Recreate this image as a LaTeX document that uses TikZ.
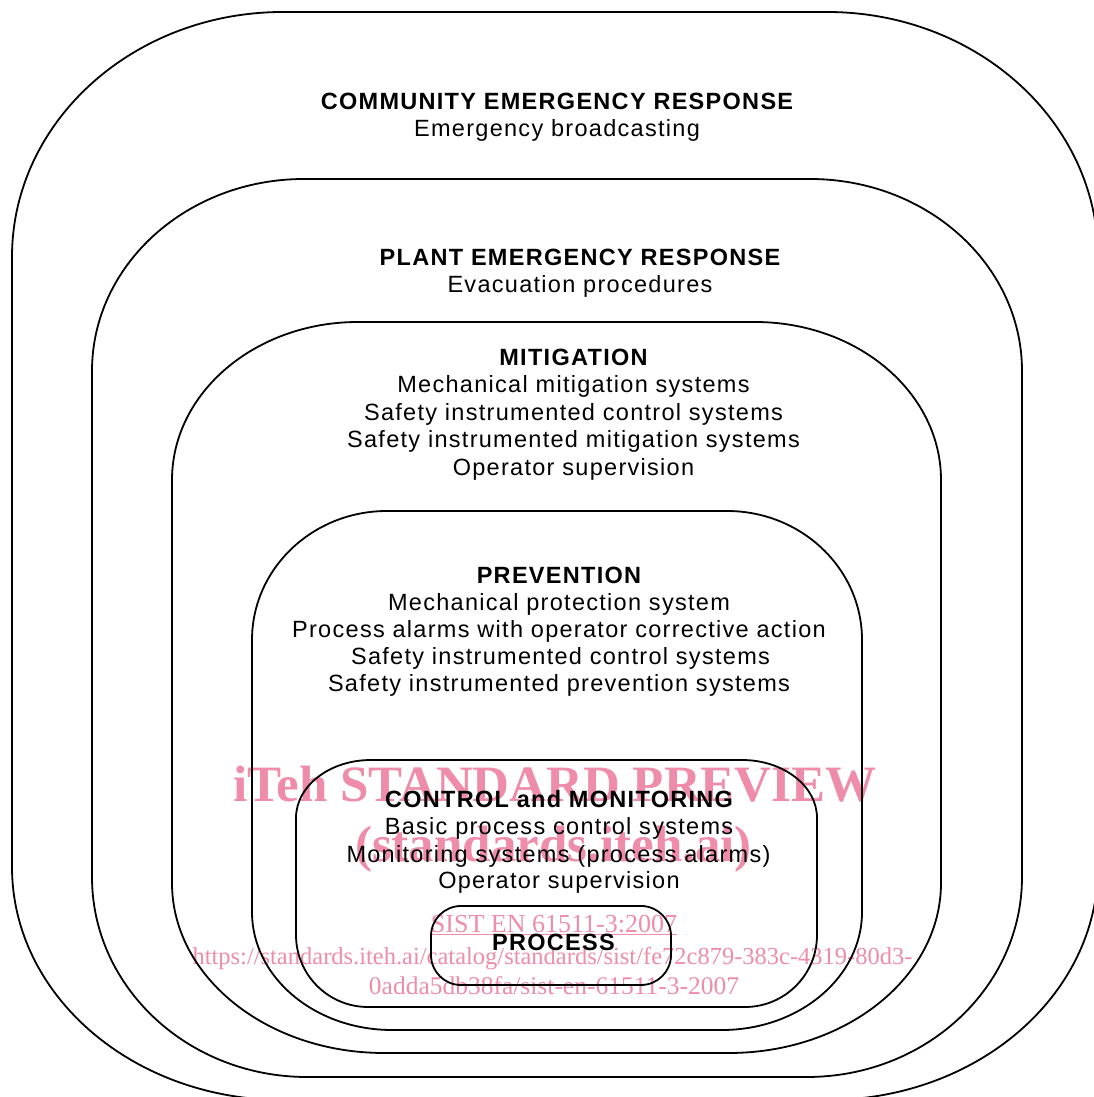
\documentclass[tikz,border=0pt]{standalone}
\usepackage{fontspec}
\setmainfont{Liberation Sans}[LetterSpace=5.5]
\newfontfamily\wmfont{Liberation Serif}
\definecolor{wmpink}{RGB}{238,140,170}
% #1 x left, #2 y top, #3 x right, #4 y bottom (image coords), #5,#6 top radii, #7,#8 bottom radii
\newcommand\RRbox[8]{%
  \draw[boxline] ({#1+#5},{1097-#2}) -- ({#3-#5},{1097-#2})
    arc[start angle=90,end angle=0,x radius=#5pt,y radius=#6pt]
    -- ({#3},{1097-#4+#8})
    arc[start angle=0,end angle=-90,x radius=#7pt,y radius=#8pt]
    -- ({#1+#7},{1097-#4})
    arc[start angle=270,end angle=180,x radius=#7pt,y radius=#8pt]
    -- ({#1},{1097-#2-#6})
    arc[start angle=180,end angle=90,x radius=#5pt,y radius=#6pt]
    -- cycle;}
\begin{document}
\begin{tikzpicture}[x=1pt,y=1pt,
  boxline/.style={draw=black,line width=1.8pt},
  txt/.style={anchor=base,inner sep=0pt,font=\fontsize{23.5}{27.5}\selectfont},
  hd/.style={txt,font=\fontsize{23.5}{27.5}\selectfont\bfseries},
  wmbig/.style={anchor=base,inner sep=0pt,text=wmpink,font=\wmfont\fontsize{51}{55}\selectfont\bfseries},
  wmsmall/.style={anchor=base,inner sep=0pt,text=wmpink,font=\wmfont\fontsize{26}{30}\selectfont}]
\useasboundingbox (0,0) rectangle (1094,1097);
\clip (0,0) rectangle (1094,1097);
% watermark
\node[wmbig] (w1) at (555,295) {iTeh STANDARD PREVIEW};
\node[wmbig] (w2) at (553.5,235) {(standards.iteh.ai)};
\node[wmsmall] (w3) at (554,164.5) {\underline{SIST EN 61511-3:2007}};
\node[wmsmall,font=\wmfont\fontsize{24.5}{28}\selectfont] (w4) at (552.5,132) {https://standards.iteh.ai/catalog/standards/sist/fe72c879-383c-4319-80d3-};
\node[wmsmall,font=\wmfont\fontsize{25.5}{29}\selectfont] (w5) at (554,102) {0adda5db38fa/sist-en-61511-3-2007};
% nested boxes
\RRbox{12}{12}{1098}{1100}{271}{245}{271}{233}
\RRbox{92}{179}{1022}{1077}{212}{192}{215}{200}
\RRbox{172}{322}{941}{1053}{186}{158}{212}{170}
\RRbox{252}{511}{862}{1030}{135}{129}{140}{118}
\RRbox{296}{760}{817}{1007}{75}{58}{72}{72}
\RRbox{431}{906}{671}{985}{30}{30}{30}{30}
% texts
\node[hd] (c1) at (557,987.7) {COMMUNITY EMERGENCY RESPONSE};
\node[txt] (c2) at (557,960) {Emergency broadcasting};
\node[hd] (p1) at (580,831.3) {PLANT EMERGENCY RESPONSE};
\node[txt] (p2) at (580,804) {Evacuation procedures};
\node[hd] (m1) at (573.5,731.5) {MITIGATION};
\node[txt] (m2) at (573.5,704) {Mechanical mitigation systems};
\node[txt] (m3) at (573.5,676.3) {Safety instrumented control systems};
\node[txt] (m4) at (573.5,649) {Safety instrumented mitigation systems};
\node[txt] (m5) at (573.5,621.5) {Operator supervision};
\node[hd] (v1) at (559,513.5) {PREVENTION};
\node[txt] (v2) at (559,486) {Mechanical protection system};
\node[txt] (v3) at (559,459) {Process alarms with operator corrective action};
\node[txt] (v4) at (560.5,432) {Safety instrumented control systems};
\node[txt] (v5) at (559,405) {Safety instrumented prevention systems};
\node[hd] (k1) at (559,289.3) {CONTROL and MONITORING};
\node[txt] (k2) at (559,262) {Basic process control systems};
\node[txt] (k3) at (558.5,234.7) {Monitoring systems (process alarms)};
\node[txt] (k4) at (559,208) {Operator supervision};
\node[hd] (r1) at (553.5,146) {PROCESS};
\end{tikzpicture}
\end{document}
